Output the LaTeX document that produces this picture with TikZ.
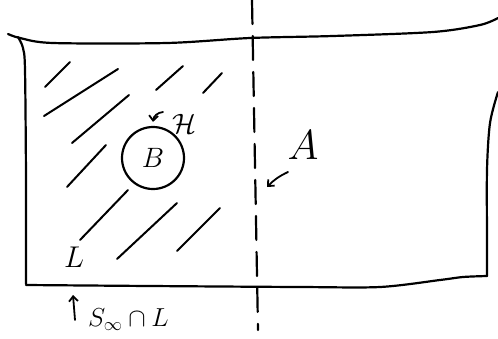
\RequirePackage{fix-cm}
\documentclass[tikz,border=0pt]{standalone}
\usepackage{amsmath}
\usetikzlibrary{positioning,arrows.meta}

\begin{document}
\begin{tikzpicture}[x=1pt, y=-1pt, line cap=round, line join=round,
  pen/.style={draw=black, line width=2.2pt},
  hatch/.style={pen, line width=2pt},
  lbl/.style={inner sep=0pt, font=\fontsize{30}{32}\selectfont},
  arr/.style={pen, line width=1.8pt, -{Straight Barb[length=5pt, width=9pt]}}]
\useasboundingbox (0,0) rectangle (498,338);
% outline of the region
\draw[pen] plot[smooth] coordinates {(8,34) (20,38) (53,43) (167,43) (250,38) (333,36) (433,32) (480,25) (498,18)};
\draw[pen] plot[smooth] coordinates {(18,37) (23,48) (25,70) (26,180) (26,284)};
\draw[pen] plot[smooth] coordinates {(26,285) (150,286) (300,287) (380,287) (440,280) (463,277) (487,276)};
\draw[pen] plot[smooth] coordinates {(487,276) (487,240) (487,170) (490,123) (498,92)};
% dashed cut
\coordinate (cuttop) at (252,0);
\coordinate (cutbot) at (258,330);
\draw[pen, dash pattern=on 24pt off 12pt] (cuttop) -- (cutbot);
% hatching
\foreach \xa/\ya/\xb/\yb in {45/87/70/62, 44/116/118/69, 72/143/129/95, 156/90/183/66,
  203/93/222/73, 67/187/106/145, 80/240/128/190, 117/259/177/203, 177/251/220/208}
  \draw[hatch] (\xa,\ya) -- (\xb,\yb);
% ball and labels
\node[pen, circle, minimum size=62pt, inner sep=0pt, font=\fontsize{28}{30}\selectfont] (ball) at (153,158) {$B$};
\node[lbl, font=\fontsize{28}{30}\selectfont] (hlbl) at (184,124) {$\mathcal{H}$};
\draw[arr] ([xshift=-21pt, yshift=12pt]hlbl.center) to[bend right=40] ([yshift=4pt]ball.north);
\node[lbl, font=\fontsize{42}{44}\selectfont] (albl) at (303,145) {$A$};
\coordinate (aend) at (267,187);
\draw[arr] ([xshift=-15pt, yshift=-27pt]albl.center) to[bend right=10] (aend);
\node[lbl] (llbl) at (74,257) {$L$};
\node[lbl, font=\fontsize{26}{28}\selectfont, anchor=west] (slbl) at (88,320) {$S_\infty \cap L$};
\coordinate (sedge) at (73,295);
\draw[arr] ([xshift=-13pt]slbl.west) -- (sedge);
\end{tikzpicture}
\end{document}
